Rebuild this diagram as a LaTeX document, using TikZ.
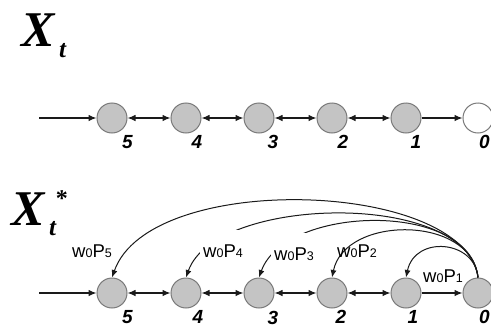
\documentclass[tikz,border=0pt]{standalone}
\usepackage{fontspec}
\setmainfont{Liberation Serif}
\setsansfont{Liberation Sans}
\usetikzlibrary{arrows.meta}
\definecolor{stateedge}{HTML}{7A7A7A}
\definecolor{statefill}{HTML}{C4C4C4}
\definecolor{ink}{HTML}{1A1A1A}
% weight label w0Pk with small digits
\newcommand{\wplab}[1]{w{\fontsize{12.5}{12.5}\selectfont 0}P{\fontsize{12.5}{12.5}\selectfont #1}}
\begin{document}
\begin{tikzpicture}[x=1pt,y=-1pt,
  state/.style={circle, draw=stateedge, fill=statefill, line width=1pt,
    minimum size=30pt, inner sep=0pt},
  endstate/.style={state, fill=white},
  link/.style={draw=ink, line width=1.1pt, -{Latex[length=8pt,width=6.5pt]}},
  both/.style={draw=ink, line width=1.1pt,
    {Latex[length=8pt,width=6.5pt]}-{Latex[length=8pt,width=6.5pt]}},
  jump/.style={draw=ink, line width=1pt, -{Latex[length=7.5pt,width=6pt]}},
  idx/.style={anchor=base, inner sep=0pt,
    font=\fontsize{19}{19}\selectfont\sffamily\bfseries\itshape},
  prob/.style={anchor=base west, inner sep=0pt,
    font=\fontsize{18.5}{18.5}\selectfont\sffamily},
  gapbox/.style={prob, fill=white, inner xsep=3pt, inner ysep=3pt, text height=24pt},
  bigx/.style={anchor=base west, inner sep=0pt,
    font=\fontsize{50}{50}\selectfont\bfseries\itshape},
  subt/.style={anchor=base west, inner sep=0pt,
    font=\fontsize{25}{25}\selectfont\bfseries\itshape}
]
\fill[white] (0,0) rectangle (491,327);
\useasboundingbox (0,0) rectangle (491,327);

% ---------- titles ----------
\node[bigx] (ttl1) at (21,46) {X};
\node[subt] (ttl1s) at (59,57) {t};
\node[bigx] (ttl2) at (11,225) {X};
\node[subt] (ttl2s) at (49,235) {t};
\node[anchor=base, inner sep=0pt, font=\fontsize{24}{24}\selectfont\bfseries] (ttl2a) at (62,206) {*};

% ---------- upper chain ----------
\coordinate (tin) at (39,118);
\node[state] (t5) at (112,118) {};
\node[state] (t4) at (186,118) {};
\node[state] (t3) at (259,118) {};
\node[state] (t2) at (332,118) {};
\node[state] (t1) at (406,118) {};
\node[endstate] (t0) at (478,118) {};

\draw[link] (tin) -- (t5);
\draw[both] (t5) -- (t4);
\draw[both] (t4) -- (t3);
\draw[both] (t3) -- (t2);
\draw[both] (t2) -- (t1);
\draw[link] (t1) -- (t0);

\node[idx] (tl5) at (127.5,148) {5};
\node[idx] (tl4) at (197,148) {4};
\node[idx] (tl3) at (273,148) {3};
\node[idx] (tl2) at (343,148) {2};
\node[idx] (tl1) at (416,148) {1};
\node[idx] (tl0) at (484.5,148) {0};

% ---------- lower chain ----------
\coordinate (bin) at (39,293);
\node[state] (b5) at (112,293) {};
\node[state] (b4) at (186,293) {};
\node[state] (b3) at (259,293) {};
\node[state] (b2) at (332,293) {};
\node[state] (b1) at (406,293) {};
\node[state] (b0) at (478,293) {};

\draw[link] (bin) -- (b5);
\draw[both] (b5) -- (b4);
\draw[both] (b4) -- (b3);
\draw[both] (b3) -- (b2);
\draw[both] (b2) -- (b1);
\draw[link] (b1) -- (b0);

\node[idx] (bl5) at (127.5,323) {5};
\node[idx] (bl4) at (198,323) {4};
\node[idx] (bl3) at (273,324) {3};
\node[idx] (bl2) at (341,323) {2};
\node[idx] (bl1) at (413,323) {1};
\node[idx] (bl0) at (484.5,323) {0};

% ---------- jumps back from state 0 ----------
\draw[jump] (b0.north) .. controls (465,180) and (150,170) .. (b5.north);
\draw[jump] (b0.north) .. controls (468,190) and (215,195) .. (b4.north);
\draw[jump] (b0.north) .. controls (470,200) and (285,205) .. (b3.north);
\draw[jump] (b0.north) .. controls (472,215) and (345,215) .. (b2.north);
\draw[jump] (b0.north) .. controls (475,240) and (415,235) .. (b1.north);

% ---------- weights ----------
\node[prob] (w5) at (72,257) {\wplab{5}};
\node[gapbox] (w4) at (200,257) {\wplab{4}};
\node[gapbox] (w3) at (271,260) {\wplab{3}};
\node[prob] (w2) at (337,257) {\wplab{2}};
\node[prob] (w1) at (423,282) {\wplab{1}};
\end{tikzpicture}
\end{document}
